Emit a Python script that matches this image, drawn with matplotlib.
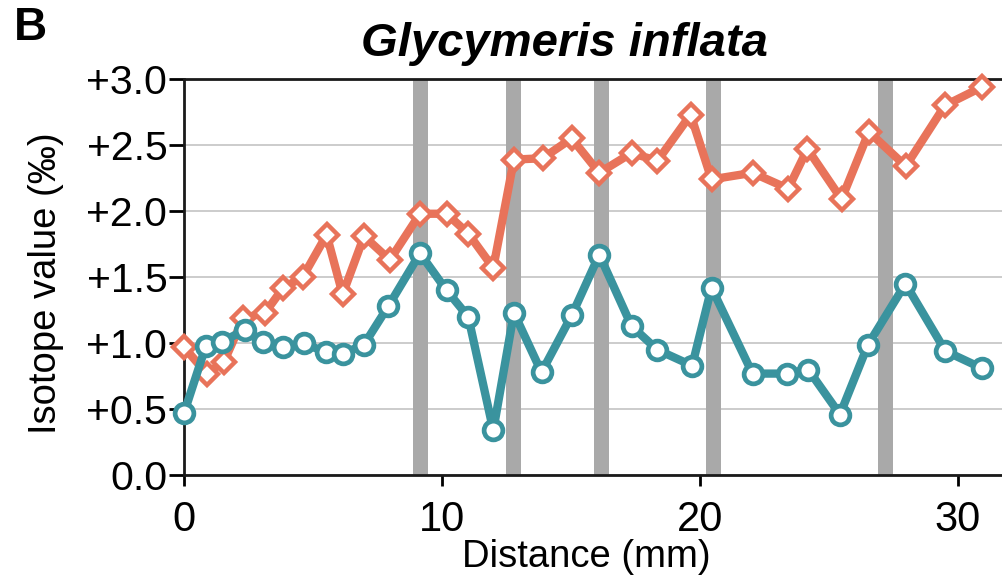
import matplotlib
matplotlib.use('Agg')
import matplotlib.pyplot as plt

plt.rcParams['font.family'] = ['Liberation Sans', 'DejaVu Sans']

# orange series (diamonds)
orange_x = [0, 0.88, 1.55, 2.30, 3.14, 3.85, 4.60, 5.53, 6.15, 6.98, 7.98, 9.15,
            10.18, 11.02, 11.99, 12.79, 13.9, 15.03, 16.1, 17.35, 18.35, 19.64,
            20.45, 22.04, 23.42, 24.17, 25.49, 26.55, 27.98, 29.5, 30.94]
orange_y = [0.97, 0.77, 0.86, 1.19, 1.23, 1.42, 1.50, 1.82, 1.37, 1.81, 1.63, 1.98,
            1.98, 1.83, 1.57, 2.39, 2.40, 2.55, 2.29, 2.44, 2.38, 2.73,
            2.24, 2.29, 2.17, 2.47, 2.09, 2.60, 2.34, 2.80, 2.94]

# teal series (circles)
teal_x = [0, 0.85, 1.46, 2.36, 3.07, 3.85, 4.65, 5.50, 6.17, 6.98, 7.92, 9.15,
          10.18, 11.02, 11.99, 12.79, 13.86, 15.03, 16.1, 17.35, 18.35, 19.7,
          20.45, 22.04, 23.38, 24.2, 25.43, 26.52, 27.97, 29.52, 30.94]
teal_y = [0.47, 0.98, 1.01, 1.10, 1.01, 0.97, 1.00, 0.93, 0.92, 0.99, 1.28, 1.68,
          1.40, 1.20, 0.34, 1.23, 0.78, 1.21, 1.67, 1.13, 0.95, 0.83,
          1.42, 0.77, 0.77, 0.80, 0.46, 0.99, 1.45, 0.94, 0.81]

# vertical gray bands (mm)
bands = [9.17, 12.76, 16.18, 20.54, 27.2]

yticks = [0.0, 0.5, 1.0, 1.5, 2.0, 2.5, 3.0]
ytick_labels = ['0.0', '+0.5', '+1.0', '+1.5', '+2.0', '+2.5', '+3.0']
xticks = [0, 10, 20, 30]

fig = plt.figure(figsize=(10.03, 5.79), dpi=100)
ax = fig.add_axes([184 / 1003, 103.7 / 579, 1 - 184 / 1003, (475.3 - 79) / 579])

for b in bands:
    ax.axvspan(b - 0.29, b + 0.29, color='#a9a9a9', lw=0, zorder=1)

ax.plot(orange_x, orange_y, color='#e8735a', lw=6, marker='D', ms=11,
        mfc='white', mec='#e8735a', mew=3.2, zorder=4, clip_on=False)
ax.plot(teal_x, teal_y, color='#3a939e', lw=6, marker='o', ms=13.5,
        mfc='white', mec='#3a939e', mew=3.4, zorder=5, clip_on=False)

ax.set_xlim(0, 31.75)
ax.set_ylim(0, 3.0)
ax.set_yticks(yticks)
ax.set_yticklabels(ytick_labels)
ax.set_xticks(xticks)
ax.yaxis.grid(True, color='#c4c4c4', lw=1.2, zorder=0)
ax.set_axisbelow(True)

for s in ['left', 'bottom', 'top']:
    ax.spines[s].set_linewidth(2)
    ax.spines[s].set_color('#1a1a1a')
ax.spines['right'].set_visible(False)
ax.tick_params(axis='y', direction='out', length=11, width=2, labelsize=29.5, pad=1)
ax.tick_params(axis='x', direction='out', length=8, width=2, labelsize=30, pad=10)

fig.text(46 / 1003, 1 - 283 / 579, 'Isotope value (‰)', rotation=90,
         ha='center', va='center', fontsize=27.5)
fig.text(586 / 1003, 1 - 557 / 579, 'Distance (mm)', ha='center', va='center',
         fontsize=27.5)
fig.text(564 / 1003, 1 - 44 / 579, 'Glycymeris inflata', ha='center', va='center',
         fontsize=34, fontweight='bold', fontstyle='italic')
fig.text(14 / 1003, 1 - 28 / 579, 'B', ha='left', va='center', fontsize=33,
         fontweight='bold')

fig.savefig('out.png', dpi=100)
